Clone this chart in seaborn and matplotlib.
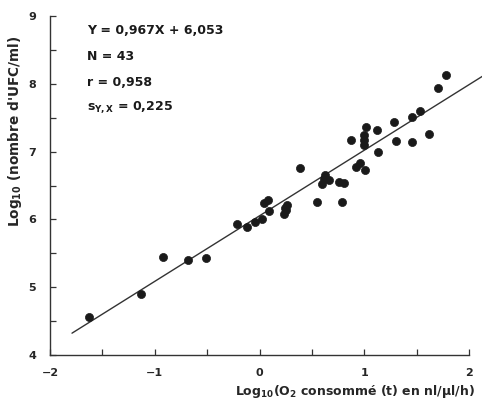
import matplotlib
matplotlib.use("Agg")
import matplotlib.pyplot as plt
import seaborn as sns
import numpy as np
import pandas as pd

# Data
x_vals = [-1.628, -1.132, -0.919, -0.680, -0.514, -0.216, -0.120, -0.044, 0.023,
          0.042, 0.085, 0.090, 0.233, 0.252, 0.259, 0.390, 0.551, 0.595, 0.624,
          0.662, 0.760, 0.808, 0.786, 0.869, 0.920, 0.958, 1.006, 0.999, 0.999,
          1.018, 1.117, 1.133, 1.282, 1.304, 1.454, 1.457, 1.533, 1.616, 1.705,
          1.785, 0.999, 0.240, 0.620]
y_vals = [4.556, 4.900, 5.441, 5.401, 5.435, 5.932, 5.892, 5.957, 5.999,
          6.249, 6.291, 6.117, 6.075, 6.139, 6.212, 6.758, 6.261, 6.522, 6.650,
          6.577, 6.556, 6.532, 6.261, 7.171, 6.768, 6.827, 6.724, 7.171, 7.097,
          7.358, 7.319, 6.994, 7.432, 7.161, 7.146, 7.515, 7.603, 7.260, 7.942,
          8.130, 7.240, 6.170, 6.600]

slope = 0.967
intercept = 6.053
line_x_range = [-1.79, 2.15]

x_ticks = [-2, -1, 0, 1, 2]
y_ticks = [4, 5, 6, 7, 8, 9]
annotations = ["Y = 0,967X + 6,053", "N = 43", "r = 0,958",
               r"s$_{\mathbf{Y,X}}$ = 0,225"]

sns.set_style("white")
plt.rcParams['font.family'] = ['DejaVu Sans']
plt.rcParams['mathtext.default'] = 'bf'

df = pd.DataFrame({"x": x_vals, "y": y_vals})
line_df = pd.DataFrame({"x": line_x_range,
                        "y": [slope * v + intercept for v in line_x_range]})

fig = plt.figure(figsize=(4.82, 4.07), dpi=100)
ax = fig.add_axes([50 / 482, 1 - 355 / 407, 419 / 482, 339 / 407])

sns.lineplot(data=line_df, x="x", y="y", ax=ax, color="#333333",
             linewidth=1.0)
for l in ax.lines:
    l.set_clip_on(False)
sns.scatterplot(data=df, x="x", y="y", ax=ax, color="#1a1a1a", s=34,
                edgecolor="#1a1a1a", linewidth=0.5, zorder=3)

ax.set_xlim(-2, 2)
ax.set_ylim(4, 9)
ax.set_xticks(x_ticks)
ax.set_yticks(y_ticks)
ax.set_xticks(np.arange(-2, 2.01, 0.5), minor=True)
ax.set_yticks(np.arange(4, 9.01, 0.5), minor=True)
ax.set_xticklabels([("\u2212" + str(abs(t))) if t < 0 else str(t) for t in x_ticks],
                   fontweight="bold", fontsize=8)
ax.set_yticklabels([str(t) for t in y_ticks], fontweight="bold", fontsize=8)
ax.tick_params(which="both", direction="in", length=4, width=0.9,
               color="#333333", bottom=True, left=True)
ax.tick_params(axis="x", which="major", pad=9)
ax.tick_params(axis="y", which="major", pad=10)

for side in ["top", "right"]:
    ax.spines[side].set_visible(False)
for side in ["left", "bottom"]:
    ax.spines[side].set_color("#333333")
    ax.spines[side].set_linewidth(1.0)

ax.set_xlabel(r"Log$_{10}$(O$_2$ consommé (t) en nl/µl/h)", fontsize=9,
              fontweight="bold")
ax.set_ylabel(r"Log$_{10}$ (nombre d'UFC/ml)", fontsize=9.8, fontweight="bold")
ax.xaxis.label.set_va("center")
ax.yaxis.label.set_va("center")
ax.xaxis.set_label_coords((355 - 50) / 419, -(391 - 355) / 339)
ax.yaxis.set_label_coords(-(50 - 15) / 419, (355 - 131) / 339)

ys_px = [31, 57, 82, 107]
for txt, ypx in zip(annotations, ys_px):
    fig.text(87 / 482, 1 - ypx / 407, txt, fontsize=9, fontweight="bold",
             ha="left", va="center", color="#1a1a1a")

fig.savefig("out.png", dpi=100)
